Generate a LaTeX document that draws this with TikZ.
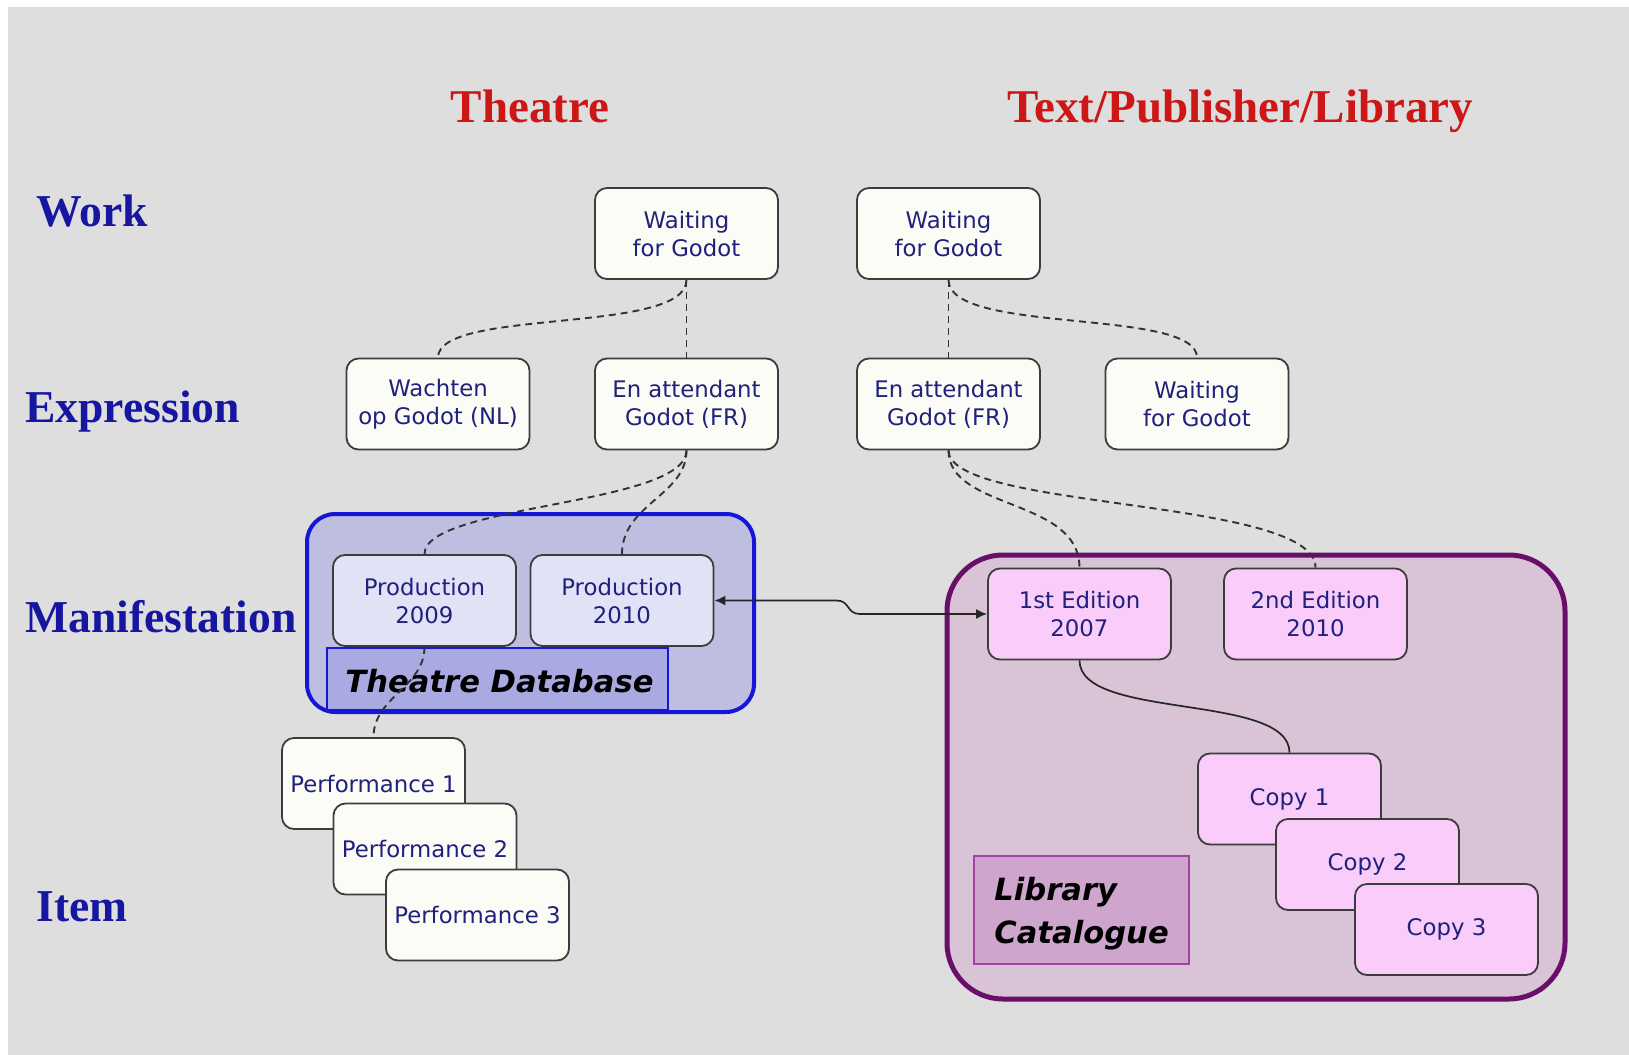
\documentclass[tikz,border=0pt]{standalone}
\usepackage{fontspec}
\setmainfont{Liberation Serif}
\newfontfamily\vfont{DejaVu Sans}
\usetikzlibrary{arrows.meta,calc}
\definecolor{bggray}{RGB}{222,222,222}
\definecolor{titlered}{RGB}{205,22,22}
\definecolor{labelblue}{RGB}{22,22,160}
\definecolor{navy}{RGB}{32,32,125}
\definecolor{boxborder}{RGB}{60,60,60}
\definecolor{boxwhite}{RGB}{252,252,246}
\definecolor{prodfill}{RGB}{226,226,247}
\definecolor{pinkfill}{RGB}{250,204,250}
\definecolor{tdbfill}{RGB}{190,191,224}
\definecolor{tdbborder}{RGB}{22,22,215}
\definecolor{tdblabel}{RGB}{170,170,226}
\definecolor{libfill}{RGB}{216,196,214}
\definecolor{libborder}{RGB}{105,15,105}
\definecolor{liblabel}{RGB}{205,165,205}
\definecolor{liblabelborder}{RGB}{165,65,165}
\begin{document}
\begin{tikzpicture}[x=0.5pt,y=-0.5pt,
  box/.style={draw=boxborder, line width=0.9pt, rounded corners=6pt, fill=boxwhite,
    minimum width=91.5pt, minimum height=45.5pt, inner sep=0pt, align=center,
    text=navy, font=\vfont\fontsize{11.4}{14}\selectfont},
  prodbox/.style={box, fill=prodfill},
  pinkbox/.style={box, fill=pinkfill},
  title/.style={text=titlered, font=\bfseries\fontsize{23.5}{28}\selectfont, inner sep=0pt},
  rowlabel/.style={text=labelblue, font=\bfseries\fontsize{22.8}{27}\selectfont, inner sep=0pt},
  dblabel/.style={text=black, font=\vfont\bfseries\itshape\fontsize{15.3}{21.5}\selectfont, inner sep=0pt},
  link/.style={draw=black!80, line width=0.95pt, dash pattern=on 3.5pt off 2.5pt},
  solidlink/.style={draw=black!85, line width=0.85pt},
  dbl/.style={draw=black!85, line width=0.85pt, {Latex[length=5.5pt,width=5pt]}-{Latex[length=5.5pt,width=5pt]}}
]
% background
\path[use as bounding box, fill=white] (0,0) rectangle (1629,1055);
\fill[bggray] (8,7) rectangle (1629,1055);

% titles
\node[title, anchor=base] (tTheatre) at (530,122.6) {Theatre};
\node[title, anchor=base] (tText) at (1240,122.6) {Text/Publisher/Library};

% row labels
\node[rowlabel, anchor=base west] (lWork) at (36,226.5) {Work};
\node[rowlabel, anchor=base west] (lExpr) at (25,422) {Expression};
\node[rowlabel, anchor=base west] (lMan) at (25,632) {Manifestation};
\node[rowlabel, anchor=base west] (lItem) at (36,921.5) {Item};

% containers
\filldraw[fill=tdbfill, draw=tdbborder, line width=2pt, rounded corners=14pt] (307,514) rectangle (754,712);
\filldraw[fill=tdblabel, draw=tdbborder, line width=0.6pt] (327,648) rectangle (668,710);
\node[dblabel, anchor=base] (tdb) at (499.5,692) {Theatre Database};

\filldraw[fill=libfill, draw=libborder, line width=2.5pt, rounded corners=28pt] (947,555) rectangle (1565,999);
\filldraw[fill=liblabel, draw=liblabelborder, line width=0.6pt] (974,856) rectangle (1189,964);
\node[dblabel, anchor=west, align=left] (lcat) at (994,914) {Library\\Catalogue};

% work
\node[box] (wt) at (686.5,233.5) {Waiting\\for Godot};
\node[box] (wx) at (948.5,233.5) {Waiting\\for Godot};
% expression
\node[box] (wach) at (438,404) {Wachten\\op Godot (NL)};
\node[box] (et) at (686.5,404) {En attendant\\Godot (FR)};
\node[box] (ex) at (948.5,404) {En attendant\\Godot (FR)};
\node[box] (wx2) at (1197,404) {Waiting\\for Godot};
% manifestation
\node[prodbox] (p09) at (424.5,600.5) {Production\\2009};
\node[prodbox] (p10) at (622,600.5) {Production\\2010};
\node[pinkbox] (e1) at (1079.5,614) {1st Edition\\2007};
\node[pinkbox] (e2) at (1315.5,614) {2nd Edition\\2010};
% items
\node[box] (pf1) at (373.5,783.5) {Performance 1};
\node[box] (pf2) at (425,849) {Performance 2};
\node[box] (pf3) at (477.5,915) {Performance 3};
\node[pinkbox] (c1) at (1289.5,799) {Copy 1};
\node[pinkbox] (c2) at (1367.5,864.5) {Copy 2};
\node[pinkbox] (c3) at (1446.5,929.5) {Copy 3};

% connectors
\draw[link] (wt.south) -- (et.north);
\draw[link] (wt.south) .. controls +(0,55) and +(0,-50) .. (wach.north);
\draw[link] (et.south) .. controls +(0,55) and +(0,-50) .. (p09.north);
\draw[link] (et.south) .. controls +(0,45) and +(0,-50) .. (p10.north);
\draw[link] (p09.south) .. controls +(0,40) and +(0,-40) .. (pf1.north);
\draw[link] (wx.south) -- (ex.north);
\draw[link] (wx.south) .. controls +(0,55) and +(0,-50) .. (wx2.north);
\draw[link] (ex.south) .. controls +(0,60) and +(0,-70) .. (e1.north);
\draw[link] (ex.south) .. controls +(0,60) and +(0,-70) .. (e2.north);
\draw[solidlink] (e1.south) .. controls +(0,60) and +(0,-60) .. (c1.north);
\draw[dbl] (p10.east) -- ($(p10.east)+(122,0)$) .. controls +(14,0) and +(-14,0) .. ($(e1.west)+(-127,0)$) -- (e1.west);
\end{tikzpicture}
\end{document}
